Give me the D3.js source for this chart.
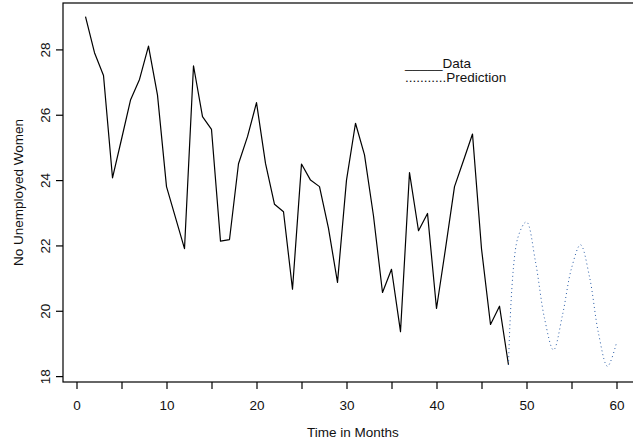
<!DOCTYPE html>
<html>
<head>
<meta charset="utf-8">
<script src="https://cdn.jsdelivr.net/npm/d3@7"></script>
<style>
  html, body { margin: 0; padding: 0; background: #fff; }
  svg { display: block; font-family: "Liberation Sans", Arial, Helvetica, sans-serif; }
</style>
</head>
<body>
<svg id="chart" width="633" height="445"></svg>
<script>
// Monthly counts of unemployed women (observed), months 1..48
const months = d3.range(1, 49);
const unemployed = [
  29.0, 27.9, 27.2, 24.07, 25.25, 26.45, 27.08, 28.1, 26.6, 23.8,
  22.85, 21.9, 27.5, 25.94, 25.55, 22.13, 22.18, 24.5, 25.33, 26.37,
  24.51, 23.26, 23.03, 20.66, 24.49, 24.0, 23.8, 22.52, 20.87, 24.0,
  25.74, 24.77, 22.9, 20.56, 21.27, 19.36, 24.23, 22.45, 22.98, 20.07,
  21.9, 23.8, 24.6, 25.41, 21.9, 19.58, 20.14, 18.34
];

// Forecast, months 48..60
const predMonths = d3.range(48, 61);
const predicted = [
  18.34, 22.2, 22.72, 21.5, 19.77, 18.8, 19.87, 21.3, 22.02, 21.04,
  19.31, 18.3, 19.02
];

// Axis tick values and labels
const xMajorTicks = [0, 10, 20, 30, 40, 50, 60];
const xMinorTicks = [5, 15, 25, 35, 45, 55];
const yTicks = [18, 20, 22, 24, 26, 28];
const xTitle = "Time in Months";
const yTitle = "No Unemployed Women";
const legendLabels = ["_____Data", "...........Prediction"];

// Plot region limits in data units
const xLim = [-1.5, 62.9];
const yLim = [17.82, 29.42];

const svg = d3.select("#chart");
const W = 633, H = 445;
const box = { left: 63, right: 642.6, top: 3, bottom: 382 };

const x = d3.scaleLinear().domain(xLim).range([box.left, box.right]);
const y = d3.scaleLinear().domain(yLim).range([box.bottom, box.top]);

const fontSize = "13.5px";

// Frame around the plotting area
svg.append("rect")
  .attr("x", x(xLim[0])).attr("y", y(yLim[1]))
  .attr("width", x(xLim[1]) - x(xLim[0]))
  .attr("height", y(yLim[0]) - y(yLim[1]))
  .attr("fill", "none").attr("stroke", "#000").attr("stroke-width", 1.2);

// X axis: labelled ticks every 10, unlabelled ticks in between
const xAxis = svg.append("g")
  .attr("transform", `translate(0,${box.bottom})`)
  .call(d3.axisBottom(x).tickValues(xMajorTicks).tickSize(7).tickFormat(d3.format("d")));
xAxis.select(".domain").remove();
xAxis.selectAll("line").attr("stroke", "#000").attr("stroke-width", 1.2);
xAxis.selectAll("text")
  .attr("y", 28).attr("dy", 0)
  .attr("fill", "#111")
  .style("font-size", fontSize);

const xMinor = svg.append("g")
  .attr("transform", `translate(0,${box.bottom})`)
  .call(d3.axisBottom(x).tickValues(xMinorTicks).tickSize(7).tickFormat(""));
xMinor.select(".domain").remove();
xMinor.selectAll("line").attr("stroke", "#000").attr("stroke-width", 1.2);

// Y axis with labels turned parallel to the axis
const yAxis = svg.append("g")
  .attr("transform", `translate(${box.left},0)`)
  .call(d3.axisLeft(y).tickValues(yTicks).tickSize(7).tickFormat(d3.format("d")));
yAxis.select(".domain").remove();
yAxis.selectAll("line").attr("stroke", "#000").attr("stroke-width", 1.2);
yAxis.selectAll("text")
  .attr("x", 0).attr("y", -13).attr("dy", 0)
  .attr("transform", "rotate(-90)")
  .attr("text-anchor", "middle")
  .attr("fill", "#111")
  .style("font-size", fontSize);

// Axis titles
svg.append("text")
  .attr("x", (box.left + box.right) / 2).attr("y", 437)
  .attr("text-anchor", "middle")
  .style("font-size", fontSize).attr("fill", "#111")
  .text(xTitle);

svg.append("text")
  .attr("transform", `translate(23,${(box.top + box.bottom) / 2}) rotate(-90)`)
  .attr("text-anchor", "middle")
  .style("font-size", fontSize).attr("fill", "#111")
  .text(yTitle);

// Observed series
const obs = months.map((m, i) => [m, unemployed[i]]);
svg.append("path")
  .datum(obs)
  .attr("fill", "none")
  .attr("stroke", "#000")
  .attr("stroke-width", 1.2)
  .attr("stroke-linejoin", "round")
  .attr("d", d3.line().x(d => x(d[0])).y(d => y(d[1])));

// Forecast, drawn as a smooth dotted curve
const pred = predMonths.map((m, i) => [m, predicted[i]]);
svg.append("path")
  .datum(pred)
  .attr("fill", "none")
  .attr("stroke", "#2b5ea8")
  .attr("stroke-width", 1)
  .attr("stroke-dasharray", "1,3")
  .attr("d", d3.line().curve(d3.curveCatmullRom.alpha(0.5)).x(d => x(d[0])).y(d => y(d[1])));

// Legend written as text lines
const legend = svg.append("g");
legend.selectAll("text")
  .data(legendLabels)
  .join("text")
  .attr("x", 405)
  .attr("y", (d, i) => 68.3 + i * 14)
  .style("font-size", fontSize)
  .attr("fill", "#111")
  .text(d => d);
</script>
</body>
</html>
